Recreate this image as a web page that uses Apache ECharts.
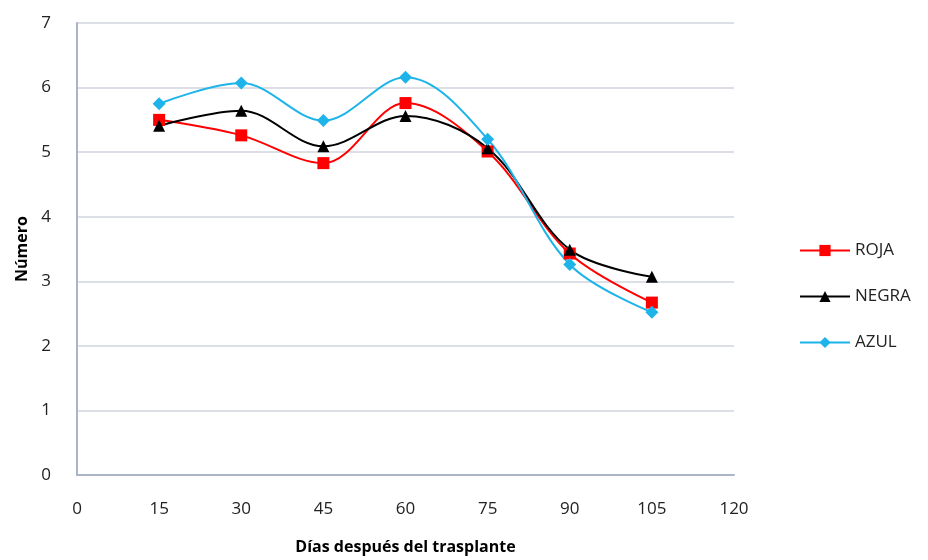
<!DOCTYPE html>
<html>
<head>
<meta charset="utf-8">
<script src="https://cdn.jsdelivr.net/npm/echarts@6/dist/echarts.min.js"></script>
<style>
  html, body { margin: 0; padding: 0; background: #fff; }
  #chart { width: 928px; height: 560px; }
</style>
</head>
<body>
<div id="chart"></div>
<script>
// Días después del trasplante
const days = [15, 30, 45, 60, 75, 90, 105];
// Series values
const roja  = [5.50, 5.26, 4.83, 5.76, 5.01, 3.43, 2.67];
const negra = [5.41, 5.64, 5.09, 5.56, 5.06, 3.49, 3.07];
const azul  = [5.75, 6.07, 5.49, 6.16, 5.20, 3.26, 2.52];

const pairs = vals => days.map((d, i) => [d, vals[i]]);
const font = '"Open Sans", "Noto Sans", sans-serif';

const chart = echarts.init(document.getElementById('chart'));
chart.setOption({
  animation: false,
  grid: { left: 77, right: 194, top: 23, bottom: 81 },
  xAxis: {
    type: 'value', min: 0, max: 120, interval: 15,
    name: 'Días después del trasplante', nameLocation: 'middle', nameGap: 64,
    nameTextStyle: { fontFamily: font, fontWeight: 'bold', fontSize: 16, color: '#000' },
    axisLine: { lineStyle: { color: '#a9b6c9', width: 2 } },
    axisTick: { show: false },
    splitLine: { show: false },
    axisLabel: { fontFamily: font, fontSize: 17, color: '#222', margin: 26 }
  },
  yAxis: {
    type: 'value', min: 0, max: 7, interval: 1,
    name: 'Número', nameLocation: 'middle', nameGap: 46,
    nameTextStyle: { fontFamily: font, fontWeight: 'bold', fontSize: 16, color: '#000' },
    axisLine: { show: true, lineStyle: { color: '#a9b6c9', width: 2 } },
    axisTick: { show: false },
    splitLine: { lineStyle: { color: '#dcdfe5', width: 2 } },
    axisLabel: { fontFamily: font, fontSize: 17, color: '#222', margin: 26,
                 padding: [6, 0, 0, 0] }
  },
  legend: {
    orient: 'vertical', left: 794, top: 237, itemGap: 29,
    itemWidth: 50, itemHeight: 14,
    textStyle: { fontFamily: font, fontSize: 17, color: '#222' },
    data: ['ROJA', 'NEGRA', 'AZUL']
  },
  series: [
    { name: 'ROJA', type: 'line', smooth: 0.35, data: pairs(roja),
      symbol: 'rect', symbolSize: 12,
      itemStyle: { color: '#ff0000' }, lineStyle: { color: '#ff0000', width: 2 } },
    { name: 'NEGRA', type: 'line', smooth: 0.35, data: pairs(negra),
      symbol: 'triangle', symbolSize: 12,
      itemStyle: { color: '#000000' }, lineStyle: { color: '#000000', width: 2 } },
    { name: 'AZUL', type: 'line', smooth: 0.35, data: pairs(azul),
      symbol: 'diamond', symbolSize: 13,
      itemStyle: { color: '#1eb4ea' }, lineStyle: { color: '#1eb4ea', width: 2 } }
  ]
});
</script>
</body>
</html>
